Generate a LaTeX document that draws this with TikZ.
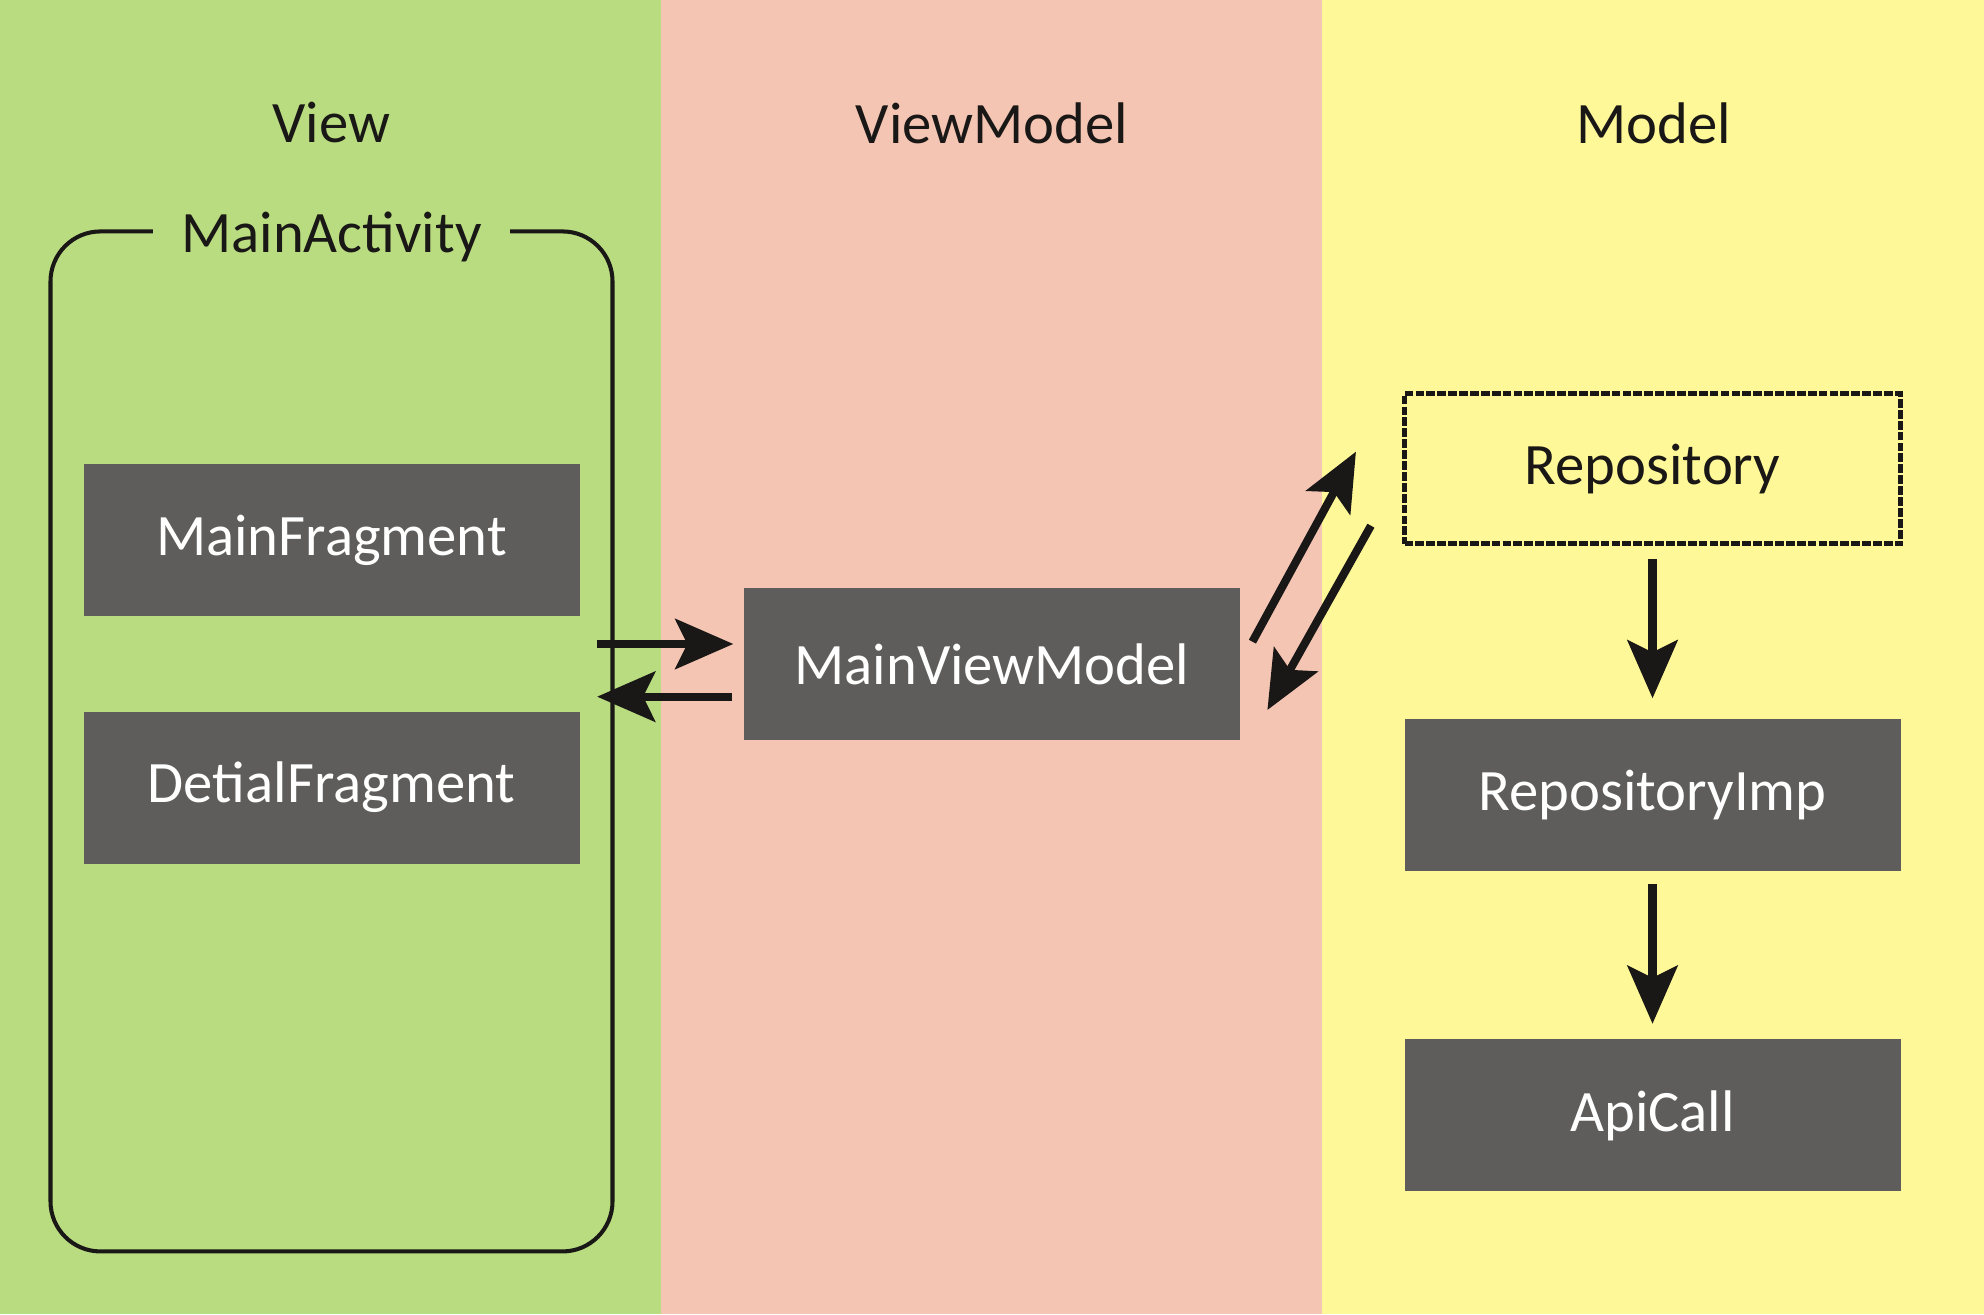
\documentclass[tikz,border=0pt]{standalone}
\usepackage{fontspec}
\setmainfont{Carlito}
\usetikzlibrary{arrows.meta,calc}
\definecolor{viewgreen}{RGB}{185,220,128}
\definecolor{vmsalmon}{RGB}{245,197,180}
\definecolor{modelyellow}{RGB}{255,248,152}
\definecolor{boxgrey}{RGB}{94,93,92}
\definecolor{ink}{RGB}{26,24,22}
\tikzset{
    bigfont/.style={font=\fontsize{16.7}{20}\selectfont},
    paneltitle/.style={bigfont,text=ink},
    greybox/.style={bigfont,fill=boxgrey,text=white,inner sep=0pt,minimum width=4.96cm,minimum height=1.52cm},
    dashbox/.style={bigfont,text=ink,draw=ink,line width=1.3pt,dash pattern=on 2.5pt off 0.6pt,inner sep=0pt,minimum width=4.96cm,minimum height=1.50cm},
    actframe/.style={draw=ink,line width=1.15pt,rounded corners=0.5cm,minimum width=5.62cm,minimum height=10.2cm},
    flow/.style={-{Stealth[length=0.58cm,width=0.5cm,inset=0.12cm]},line width=2.3pt,draw=ink}
}
\begin{document}
\begin{tikzpicture}

% three layers
\fill[viewgreen] (0,0) rectangle (6.61,13.14);
\fill[vmsalmon] (6.61,0) rectangle (13.22,13.14);
\fill[modelyellow] (13.22,0) rectangle (19.84,13.14);
\useasboundingbox (0,0) rectangle (19.84,13.14);

\node[paneltitle] (tV) at (3.315,11.91) {View};
\node[paneltitle] (tVM) at (9.92,11.91) {ViewModel};
\node[paneltitle] (tM) at (16.54,11.91) {Model};

% view
\node[actframe] (act) at (3.315,5.7255) {};
\node[paneltitle,fill=viewgreen,inner xsep=0.28cm,inner ysep=0pt,yshift=-0.08cm] (actL) at (act.north) {MainActivity};
\node[greybox] (mf) at (3.315,7.737) {MainFragment};
\node[greybox] (df) at (3.315,5.264) {DetialFragment};

% viewmodel
\node[greybox] (vm) at (9.92,6.50) {MainViewModel};

% model
\node[dashbox] (repo) at (16.525,8.453) {Repository};
\node[greybox] (rimp) at (16.525,5.19) {RepositoryImp};
\node[greybox] (api) at (16.525,1.985) {ApiCall};

\draw[flow] ($(act.east |- vm.west)+(-0.177,0.2)$) -- ($(vm.west)+(-0.10,0.2)$);
\draw[flow] ($(vm.west)+(-0.11,-0.327)$) -- ($(act.east |- vm.west)+(-0.174,-0.327)$);
\draw[flow] ($(vm.east)+(0.117,0.223)$) -- ($(repo.west)+(-0.463,0.17)$);
\draw[flow] ($(repo.west)+(-0.313,-0.57)$) -- ($(vm.east)+(0.267,-0.46)$);
\draw[flow,shorten <=0.13cm,shorten >=0.2cm] (repo) -- (rimp);
\draw[flow,shorten <=0.12cm,shorten >=0.15cm] (rimp) -- (api);

\end{tikzpicture}
\end{document}
